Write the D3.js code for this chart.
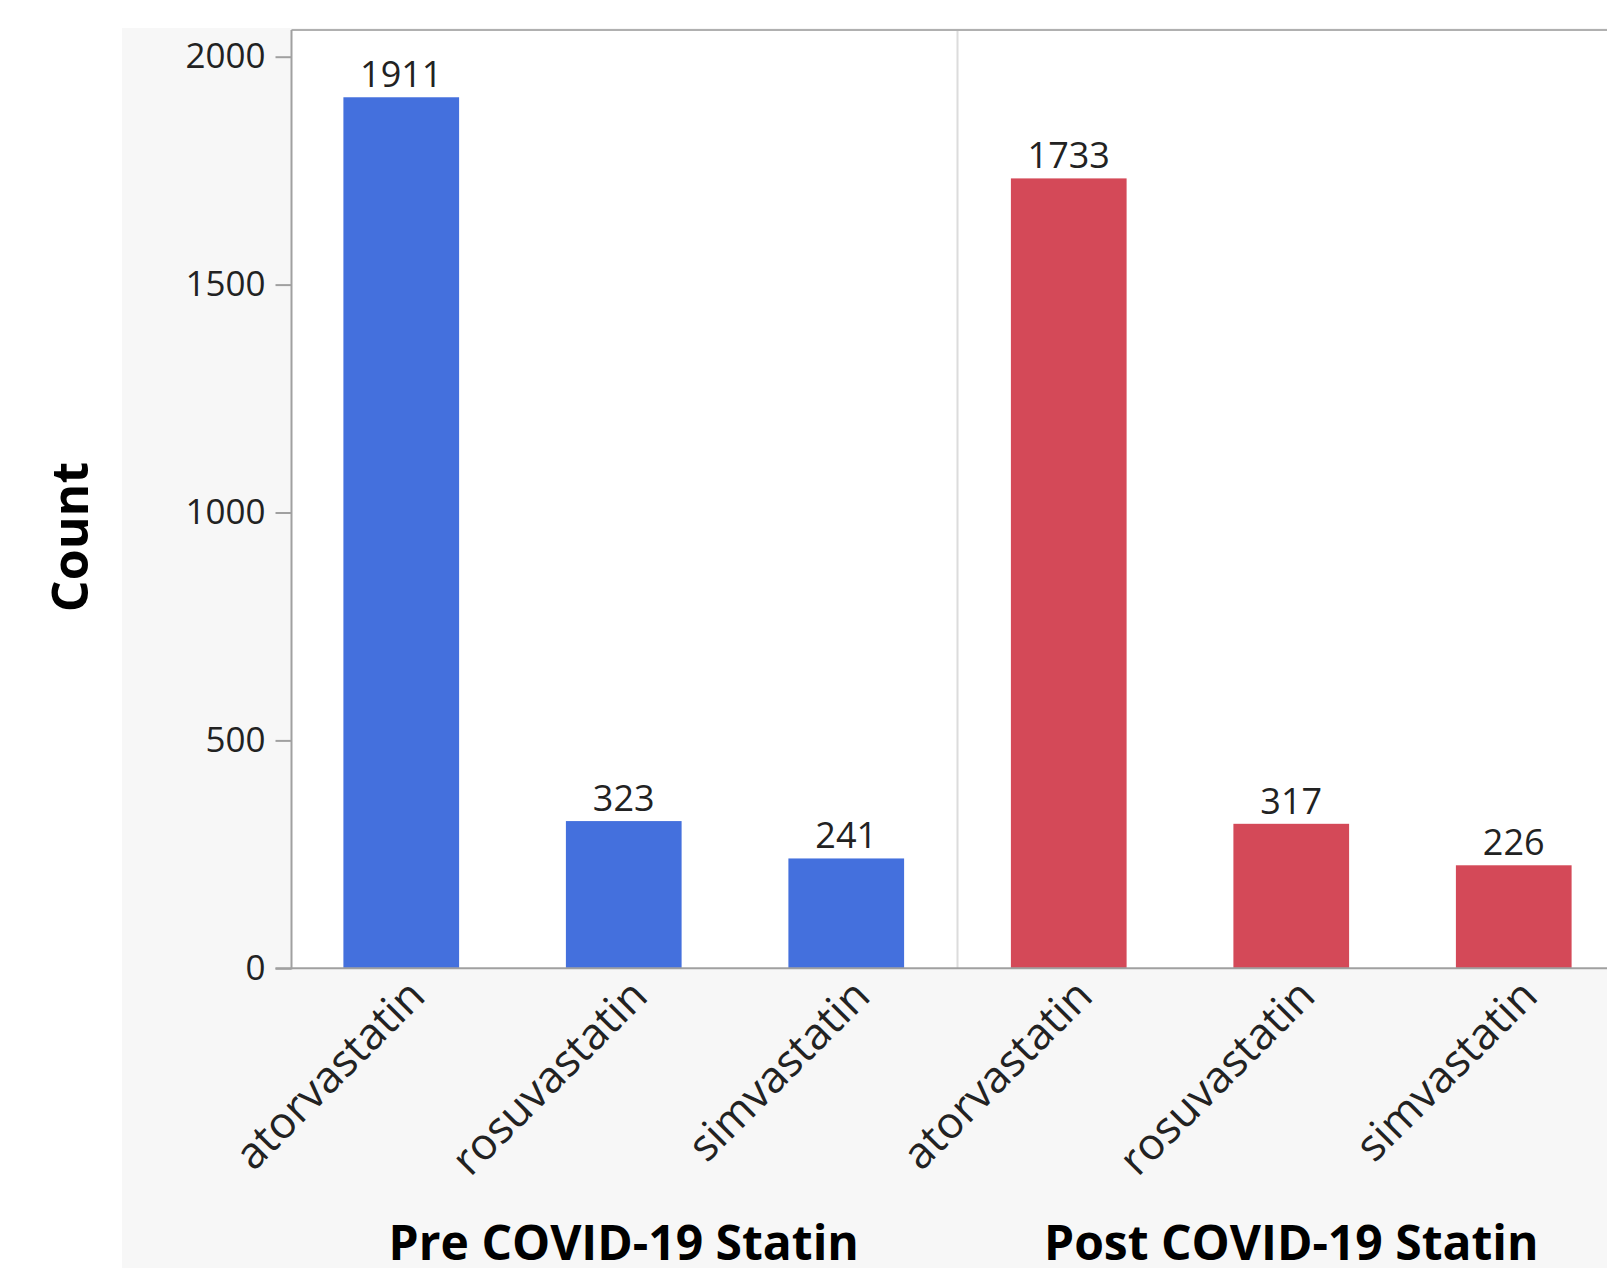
<!DOCTYPE html>
<html>
<head>
<meta charset="utf-8">
<script src="https://cdn.jsdelivr.net/npm/d3@7"></script>
<style>
  html, body { margin: 0; padding: 0; background: #ffffff; }
  svg { display: block; }
  text { font-family: "Open Sans", "Noto Sans", sans-serif; }
</style>
</head>
<body>
<svg id="chart" width="1607" height="1268"></svg>
<script>
const categories = ["atorvastatin", "rosuvastatin", "simvastatin"];
const groups = ["Pre COVID-19 Statin", "Post COVID-19 Statin"];
const preValues = [1911, 323, 241];
const postValues = [1733, 317, 226];
const yTicks = [0, 500, 1000, 1500, 2000];
const groupColors = ["#4470DD", "#D44958"];

const svg = d3.select("#chart");
const W = 1607, H = 1268;

// layout
const bgLeft = 122, bgTop = 28;
const plotLeft = 291.5, plotTop = 30, plotBottom = 968.3;
const panelW = 667.5;

// background panel
svg.append("rect").attr("x", bgLeft).attr("y", bgTop)
  .attr("width", W - bgLeft).attr("height", H - bgTop).attr("fill", "#f7f7f7");

// plot area
svg.append("rect").attr("x", plotLeft).attr("y", plotTop)
  .attr("width", W - plotLeft + 10).attr("height", plotBottom - plotTop).attr("fill", "#ffffff");

const rows = [];
groups.forEach((g, gi) => {
  const vals = gi === 0 ? preValues : postValues;
  categories.forEach((c, ci) => rows.push({ group: g, gi, cat: c, key: g + "|" + c, value: vals[ci] }));
});

const x = d3.scaleBand()
  .domain(rows.map(d => d.key))
  .range([plotLeft - 1.5, plotLeft - 1.5 + panelW * 2])
  .paddingInner(0.48).paddingOuter(0.24);

const y = d3.scaleLinear().domain([0, 2000]).range([plotBottom, 56.7]);

// divider between panels
const divX = plotLeft - 1.5 + panelW;
svg.append("line").attr("x1", divX).attr("x2", divX)
  .attr("y1", plotTop).attr("y2", plotBottom)
  .attr("stroke", "#dcdcdc").attr("stroke-width", 2);

// bars
svg.append("g").selectAll("rect").data(rows).join("rect")
  .attr("x", d => x(d.key))
  .attr("y", d => y(d.value))
  .attr("width", x.bandwidth())
  .attr("height", d => y(0) - y(d.value))
  .attr("fill", d => groupColors[d.gi]);

// value labels
svg.append("g").selectAll("text").data(rows).join("text")
  .attr("x", d => x(d.key) + x.bandwidth() / 2)
  .attr("y", d => y(d.value) - 10)
  .attr("text-anchor", "middle")
  .attr("font-size", 36)
  .attr("fill", "#222")
  .text(d => d.value);

// frame top
svg.append("line").attr("x1", plotLeft).attr("x2", W)
  .attr("y1", plotTop).attr("y2", plotTop)
  .attr("stroke", "#b0b0b0").attr("stroke-width", 2);

// y axis
const yAxis = d3.axisLeft(y).tickValues(yTicks).tickSize(16).tickPadding(10).tickFormat(d3.format("d"));
const yg = svg.append("g").attr("transform", `translate(${plotLeft},0)`).call(yAxis);
yg.select(".domain").remove();
yg.selectAll(".tick line").attr("stroke", "#a0a0a0").attr("stroke-width", 2);
yg.selectAll(".tick text").attr("font-size", 35).attr("fill", "#222")
  .attr("font-family", "'Open Sans', 'Noto Sans', sans-serif");
svg.append("line").attr("x1", plotLeft).attr("x2", plotLeft)
  .attr("y1", plotTop).attr("y2", plotBottom + 1)
  .attr("stroke", "#a0a0a0").attr("stroke-width", 2);

// x axis baseline
svg.append("line").attr("x1", plotLeft - 16).attr("x2", W)
  .attr("y1", plotBottom).attr("y2", plotBottom)
  .attr("stroke", "#a0a0a0").attr("stroke-width", 2);

// category labels (rotated)
svg.append("g").selectAll("text").data(rows).join("text")
  .attr("transform", d => `translate(${x(d.key) + x.bandwidth() / 2 + 26},${plotBottom + 30}) rotate(-45)`)
  .attr("text-anchor", "end")
  .attr("font-size", 44)
  .attr("fill", "#222")
  .text(d => d.cat);

// group labels
svg.append("g").selectAll("text").data(groups).join("text")
  .attr("x", (g, gi) => plotLeft - 1.5 + panelW * gi + panelW / 2)
  .attr("y", 1260)
  .attr("text-anchor", "middle")
  .attr("font-size", 48)
  .attr("font-weight", "bold")
  .attr("fill", "#000")
  .text(g => g);

// y title
svg.append("text")
  .attr("transform", "translate(88,537) rotate(-90)")
  .attr("text-anchor", "middle")
  .attr("font-size", 50)
  .attr("font-weight", "bold")
  .attr("fill", "#000")
  .text("Count");
</script>
</body>
</html>
